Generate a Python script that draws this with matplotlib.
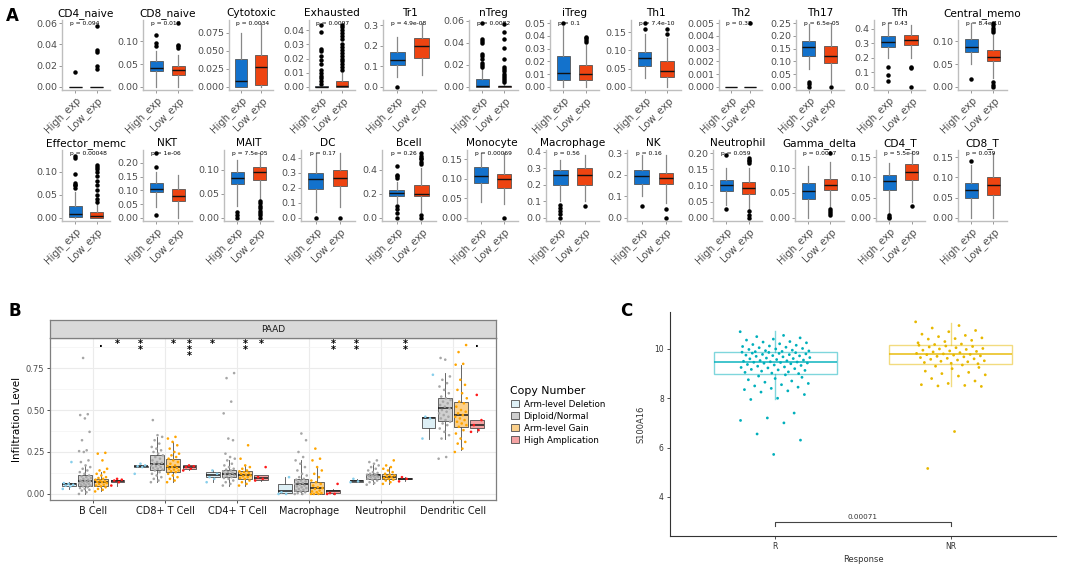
import numpy as np
import matplotlib
matplotlib.use("Agg")
import matplotlib.pyplot as plt
from matplotlib.patches import Patch, Rectangle

W, H = 1084, 567

# ---------------- panel A data ----------------
a_cells = ["CD4_naive", "CD8_naive", "Cytotoxic", "Exhausted", "Tr1", "nTreg", "iTreg", "Th1",
           "Th2", "Th17", "Tfh", "Central_memo",
           "Effector_memc", "NKT", "MAIT", "DC", "Bcell", "Monocyte", "Macrophage", "NK",
           "Neutrophil", "Gamma_delta", "CD4_T", "CD8_T"]
a_p = ["p = 0.094", "p = 0.012", "p = 0.0034", "p = 0.0097", "p = 4.9e-08", "p = 0.0082", "p = 0.1",
       "p = 7.4e-10", "p = 0.32", "p = 6.5e-05", "p = 0.43", "p = 8.4e-10",
       "p = 0.00048", "p = 1e-06", "p = 7.5e-05", "p = 0.17", "p = 0.26", "p = 0.00069", "p = 0.56",
       "p = 0.16", "p = 0.059", "p = 0.0017", "p = 5.5e-09", "p = 0.039"]
a_top = [0.06, 0.14, 0.088, 0.045, 0.31, 0.058, 0.05, 0.175, 0.005, 0.25, 0.44, 0.14,
         0.14, 0.235, 0.135, 0.43, 0.54, 0.165, 0.39, 0.3, 0.2, 0.13, 0.16, 0.16]
a_ticks = [
    ["0.00", "0.02", "0.04", "0.06"],
    ["0.00", "0.05", "0.10"],
    ["0.000", "0.025", "0.050", "0.075"],
    ["0.00", "0.01", "0.02", "0.03", "0.04"],
    ["0.0", "0.1", "0.2", "0.3"],
    ["0.00", "0.02", "0.04", "0.06"],
    ["0.00", "0.01", "0.02", "0.03", "0.04", "0.05"],
    ["0.00", "0.05", "0.10", "0.15"],
    ["0.000", "0.001", "0.002", "0.003", "0.004", "0.005"],
    ["0.00", "0.05", "0.10", "0.15", "0.20", "0.25"],
    ["0.0", "0.1", "0.2", "0.3", "0.4"],
    ["0.00", "0.05", "0.10"],
    ["0.00", "0.05", "0.10"],
    ["0.00", "0.05", "0.10", "0.15", "0.20"],
    ["0.00", "0.05", "0.10"],
    ["0.0", "0.1", "0.2", "0.3", "0.4"],
    ["0.0", "0.2", "0.4"],
    ["0.00", "0.05", "0.10", "0.15"],
    ["0.0", "0.1", "0.2", "0.3", "0.4"],
    ["0.0", "0.1", "0.2", "0.3"],
    ["0.00", "0.05", "0.10", "0.15", "0.20"],
    ["0.00", "0.05", "0.10"],
    ["0.00", "0.05", "0.10", "0.15"],
    ["0.00", "0.05", "0.10", "0.15"],
]
# (lower whisker, q1, median, q3, upper whisker)
a_high = [
    (0, 0, 0, 0, 0), (0.0, 0.035, 0.041, 0.057, 0.079), (0.0, 0.0, 0.008, 0.039, 0.075),
    (0, 0, 0, 0.0005, 0.001), (0.05, 0.105, 0.13, 0.17, 0.245), (0, 0, 0.001, 0.007, 0.016),
    (0, 0.005, 0.011, 0.024, 0.048), (0.025, 0.058, 0.078, 0.097, 0.145), (0, 0, 0, 0, 0),
    (0.07, 0.12, 0.158, 0.18, 0.245), (0.2, 0.275, 0.31, 0.35, 0.44), (0.05, 0.077, 0.088, 0.105, 0.14),
    (0, 0.002, 0.008, 0.025, 0.055), (0.04, 0.093, 0.105, 0.127, 0.165), (0.025, 0.07, 0.083, 0.095, 0.12),
    (0.04, 0.195, 0.255, 0.3, 0.43), (0.12, 0.18, 0.205, 0.23, 0.3), (0.04, 0.09, 0.108, 0.13, 0.165),
    (0.1, 0.2, 0.26, 0.29, 0.35), (0.1, 0.155, 0.195, 0.22, 0.29), (0.04, 0.083, 0.1, 0.118, 0.155),
    (0.0, 0.038, 0.053, 0.07, 0.105), (0.01, 0.068, 0.09, 0.107, 0.137), (0.0, 0.05, 0.07, 0.085, 0.13),
]
a_high_out = [
    [0.014], [0.09, 0.097, 0.115], [],
    [0.002, 0.004, 0.006, 0.008, 0.01, 0.012, 0.016, 0.019, 0.022, 0.025, 0.027, 0.039, 0.044],
    [0.0], [0.018, 0.02, 0.022, 0.025, 0.028, 0.03, 0.04, 0.042, 0.044, 0.058], [0.05],
    [0.16, 0.175], [], [0.0, 0.01, 0.02], [0.04, 0.08, 0.14], [0.018],
    [0.065, 0.07, 0.072, 0.075, 0.095, 0.13, 0.135], [0.01, 0.185, 0.235], [0.0, 0.006, 0.013],
    [0.0], [0.0, 0.04, 0.07, 0.1, 0.33, 0.35, 0.36, 0.43], [], [0.0, 0.02, 0.04, 0.06, 0.08],
    [0.055], [0.028, 0.195], [], [0.0, 0.003, 0.006], [0.14],
]
a_low = [
    (0, 0, 0, 0, 0), (0.0, 0.026, 0.036, 0.046, 0.07), (0.0, 0.003, 0.028, 0.044, 0.088),
    (0, 0, 0.0008, 0.004, 0.01), (0.06, 0.14, 0.2, 0.24, 0.31), (0, 0, 0.0003, 0.001, 0.003),
    (0, 0.005, 0.01, 0.017, 0.033), (0.0, 0.027, 0.043, 0.07, 0.135), (0, 0, 0, 0, 0),
    (0.01, 0.095, 0.12, 0.16, 0.25), (0.2, 0.29, 0.325, 0.36, 0.43), (0.02, 0.056, 0.065, 0.08, 0.115),
    (0, 0, 0.003, 0.013, 0.03), (0.0, 0.06, 0.08, 0.105, 0.155), (0.04, 0.08, 0.095, 0.107, 0.135),
    (0.07, 0.21, 0.265, 0.32, 0.43), (0.05, 0.18, 0.2, 0.27, 0.42), (0.035, 0.075, 0.098, 0.113, 0.165),
    (0.1, 0.2, 0.26, 0.3, 0.38), (0.07, 0.155, 0.183, 0.21, 0.29), (0.025, 0.075, 0.093, 0.11, 0.155),
    (0.02, 0.055, 0.065, 0.078, 0.113), (0.04, 0.093, 0.113, 0.133, 0.165), (0.0, 0.057, 0.08, 0.1, 0.16),
]
a_low_out = [
    [0.017, 0.02, 0.033, 0.035, 0.057], [0.085, 0.09, 0.093, 0.14], [],
    [0.012, 0.014, 0.016, 0.018, 0.02, 0.022, 0.024, 0.026, 0.028, 0.03, 0.034, 0.036, 0.038, 0.04, 0.042, 0.044],
    [], [0.004, 0.006, 0.008, 0.01, 0.012, 0.014, 0.016, 0.018, 0.025, 0.035, 0.044, 0.05, 0.057],
    [0.035, 0.037, 0.038, 0.039], [0.145, 0.16], [0.005], [0.0], [0.0, 0.13, 0.14],
    [0.0, 0.005, 0.01, 0.12, 0.125, 0.13, 0.135, 0.14],
    [0.035, 0.04, 0.05, 0.06, 0.07, 0.08, 0.09, 0.1, 0.105, 0.11, 0.115], [],
    [0.0, 0.005, 0.01, 0.015, 0.02, 0.025, 0.03, 0.035], [0.0], [0.0, 0.02, 0.45, 0.47, 0.49, 0.5, 0.52, 0.54],
    [0.0], [0.07], [0.0, 0.04], [0.0, 0.01, 0.02, 0.17, 0.175, 0.18, 0.185],
    [0.005, 0.01, 0.013, 0.017, 0.13], [0.028], [],
]
a_groups = ["High_exp", "Low_exp"]

# ---------------- panel B data ----------------
b_cats = ["B Cell", "CD8+ T Cell", "CD4+ T Cell", "Macrophage", "Neutrophil", "Dendritic Cell"]
b_groups = ["Arm-level Deletion", "Diploid/Normal", "Arm-level Gain", "High Amplication"]
b_box_del = [(0.03, 0.05, 0.06, 0.065, 0.07), (0.16, 0.163, 0.165, 0.167, 0.17), (0.07, 0.1, 0.11, 0.13, 0.14),
             (0.0, 0.005, 0.02, 0.06, 0.1), (0.07, 0.07, 0.075, 0.085, 0.09), (0.33, 0.39, 0.45, 0.46, 0.46)]
b_box_dip = [(0.0, 0.05, 0.075, 0.11, 0.17), (0.07, 0.14, 0.18, 0.235, 0.34), (0.05, 0.1, 0.12, 0.145, 0.2),
             (0.0, 0.02, 0.06, 0.09, 0.2), (0.06, 0.09, 0.11, 0.12, 0.17), (0.33, 0.435, 0.51, 0.57, 0.72)]
b_box_gain = [(0.015, 0.045, 0.07, 0.09, 0.13), (0.07, 0.13, 0.16, 0.21, 0.31), (0.05, 0.09, 0.11, 0.135, 0.17),
              (0.0, 0.0, 0.035, 0.07, 0.16), (0.06, 0.09, 0.1, 0.12, 0.16), (0.26, 0.4, 0.47, 0.55, 0.77)]
b_box_amp = [(0.05, 0.07, 0.08, 0.085, 0.09), (0.14, 0.15, 0.16, 0.17, 0.17), (0.08, 0.085, 0.095, 0.11, 0.11),
             (0.0, 0.005, 0.015, 0.025, 0.03), (0.075, 0.09, 0.09, 0.095, 0.1), (0.37, 0.39, 0.41, 0.44, 0.44)]
b_pts_del = [
    [0.03, 0.045, 0.05, 0.055, 0.06, 0.065, 0.19],
    [0.12, 0.16, 0.165, 0.17, 0.18],
    [0.07, 0.09, 0.1, 0.12, 0.14],
    [0.0, 0.0, 0.01, 0.1],
    [0.07, 0.075, 0.09],
    [0.33, 0.45, 0.46, 0.71],
]
b_pts_dip = [
    [0.0, 0.01, 0.02, 0.025, 0.03, 0.035, 0.04, 0.045, 0.05, 0.052, 0.055, 0.06, 0.062, 0.065, 0.07, 0.072,
     0.075, 0.078, 0.08, 0.085, 0.09, 0.095, 0.1, 0.105, 0.11, 0.12, 0.13, 0.14, 0.15, 0.16, 0.17, 0.19,
     0.2, 0.25, 0.255, 0.26, 0.32, 0.37, 0.45, 0.47, 0.475, 0.81],
    [0.07, 0.08, 0.09, 0.1, 0.11, 0.12, 0.13, 0.14, 0.145, 0.15, 0.155, 0.16, 0.165, 0.17, 0.175, 0.18,
     0.185, 0.19, 0.2, 0.21, 0.22, 0.23, 0.24, 0.25, 0.26, 0.27, 0.28, 0.3, 0.32, 0.34, 0.35, 0.44],
    [0.05, 0.06, 0.07, 0.08, 0.09, 0.095, 0.1, 0.105, 0.11, 0.115, 0.12, 0.125, 0.13, 0.135, 0.14, 0.145,
     0.15, 0.16, 0.17, 0.18, 0.2, 0.21, 0.22, 0.24, 0.32, 0.33, 0.48, 0.55, 0.69, 0.72],
    [0.0, 0.0, 0.005, 0.01, 0.015, 0.02, 0.025, 0.03, 0.035, 0.04, 0.045, 0.05, 0.055, 0.06, 0.065, 0.07,
     0.075, 0.08, 0.085, 0.09, 0.1, 0.11, 0.12, 0.14, 0.16, 0.18, 0.2, 0.22, 0.25, 0.32, 0.36],
    [0.055, 0.065, 0.07, 0.08, 0.085, 0.09, 0.095, 0.1, 0.102, 0.105, 0.108, 0.11, 0.112, 0.115, 0.118,
     0.12, 0.125, 0.13, 0.14, 0.15, 0.16, 0.17, 0.18, 0.19, 0.2],
    [0.21, 0.22, 0.33, 0.35, 0.37, 0.39, 0.41, 0.42, 0.43, 0.44, 0.45, 0.46, 0.47, 0.48, 0.49, 0.5, 0.51,
     0.52, 0.53, 0.54, 0.55, 0.56, 0.57, 0.58, 0.6, 0.62, 0.64, 0.66, 0.68, 0.7, 0.8, 0.81],
]
b_pts_gain = [
    [0.015, 0.025, 0.03, 0.04, 0.045, 0.05, 0.055, 0.06, 0.065, 0.07, 0.072, 0.075, 0.08, 0.085, 0.09,
     0.095, 0.1, 0.11, 0.12, 0.13, 0.14, 0.15, 0.2, 0.24, 0.245],
    [0.07, 0.08, 0.09, 0.1, 0.11, 0.12, 0.13, 0.135, 0.14, 0.145, 0.15, 0.155, 0.16, 0.165, 0.17, 0.18,
     0.19, 0.2, 0.21, 0.22, 0.23, 0.24, 0.25, 0.27, 0.29, 0.31, 0.33, 0.34],
    [0.05, 0.06, 0.07, 0.08, 0.09, 0.095, 0.1, 0.105, 0.11, 0.115, 0.12, 0.125, 0.13, 0.135, 0.14, 0.15,
     0.16, 0.17, 0.21, 0.29],
    [0.0, 0.0, 0.0, 0.005, 0.01, 0.015, 0.02, 0.03, 0.035, 0.04, 0.05, 0.06, 0.07, 0.08, 0.1, 0.12, 0.14,
     0.16, 0.2, 0.21, 0.27],
    [0.06, 0.07, 0.08, 0.085, 0.09, 0.095, 0.1, 0.105, 0.11, 0.115, 0.12, 0.13, 0.14, 0.15, 0.16, 0.17, 0.2],
    [0.25, 0.27, 0.3, 0.31, 0.33, 0.36, 0.38, 0.4, 0.41, 0.42, 0.43, 0.44, 0.45, 0.46, 0.47, 0.48, 0.49,
     0.5, 0.52, 0.54, 0.55, 0.57, 0.6, 0.62, 0.65, 0.68, 0.77, 0.775, 0.845, 0.887],
]
b_pts_amp = [
    [0.05, 0.07, 0.08, 0.085, 0.09],
    [0.14, 0.15, 0.16, 0.165, 0.17],
    [0.08, 0.09, 0.1, 0.16],
    [0.0, 0.0, 0.005, 0.06],
    [0.075, 0.09, 0.1],
    [0.37, 0.38, 0.41, 0.44, 0.59],
]
# significance marks: (category index, group index, label)
b_sig_cat = [0, 0, 1, 1, 1, 2, 2, 2, 3, 4, 4, 5]
b_sig_grp = [2, 3, 0, 2, 3, 0, 2, 3, 3, 0, 3, 3]
b_sig_lab = [".", "*", "**", "*", "***", "*", "**", "*", "**", "**", "**", "."]

# ---------------- panel C data ----------------
c_groups = ["R", "NR"]
c_box = [(7.97, 8.98, 9.47, 9.88, 10.73), (8.5, 9.39, 9.78, 10.16, 11.04)]
c_r = [10.7, 10.55, 10.5, 10.45, 10.4, 10.36, 10.3, 10.28, 10.25, 10.21, 10.18, 10.15, 10.12, 10.1, 10.07,
       10.05, 10.02, 10.0, 9.98, 9.95, 9.93, 9.92, 9.9, 9.89,
       9.0, 9.02, 9.05, 9.07, 9.1, 9.13, 9.15, 9.17, 9.2, 9.23, 9.25, 9.27, 9.3, 9.33, 9.35, 9.37, 9.4, 9.42,
       9.43, 9.45, 9.46, 9.47, 9.48, 9.5, 9.52, 9.53, 9.55, 9.57, 9.6, 9.61, 9.63, 9.65, 9.68, 9.7, 9.72,
       9.73, 9.75, 9.77, 9.78, 9.8, 9.82, 9.83, 9.85, 9.86, 9.87,
       8.95, 8.9, 8.85, 8.8, 8.75, 8.7, 8.65, 8.6, 8.55, 8.5, 8.45, 8.4, 8.35, 8.3, 8.25, 8.15, 8.0, 7.95,
       7.4, 7.2, 7.1, 7.0, 6.55, 6.3, 5.72]
c_nr = [11.1, 10.95, 10.85, 10.75, 10.7, 10.6, 10.55, 10.5, 10.45, 10.42, 10.4, 10.35, 10.3, 10.25, 10.2, 10.18,
        9.4, 9.42, 9.45, 9.48, 9.5, 9.52, 9.55, 9.58, 9.6, 9.62, 9.65, 9.68, 9.7, 9.72, 9.75, 9.77, 9.78,
        9.8, 9.82, 9.85, 9.88, 9.9, 9.92, 9.95, 9.98, 10.0, 10.02, 10.05, 10.08, 10.1, 10.12, 10.15,
        9.35, 9.3, 9.25, 9.2, 9.1, 9.05, 9.0, 8.95, 8.9, 8.8, 8.7, 8.6, 8.55, 8.52, 8.5, 8.48, 6.65, 5.15]
c_pval = "0.00071"

# ---------------- drawing ----------------
fig = plt.figure(figsize=(W / 100, H / 100), dpi=100)


def px_axes(l, t, r, b):
    return fig.add_axes([l / W, 1 - b / H, (r - l) / W, (b - t) / H])


def box_dict(s, out=()):
    lo, q1, med, q3, hi = s
    return dict(whislo=lo, q1=q1, med=med, q3=q3, whishi=hi, fliers=list(out))


def jit(n, half):
    # spread points sideways in a fixed, repeatable pattern
    return np.array([(k * 0.618034) % 1.0 for k in range(n)]) * 2 * half - half


blue, red = "#1372CC", "#EE4411"
a_rows = [(20, 90), (150, 221)]
a_left = [62, 143, 229, 309, 383, 469, 550, 631, 719, 796, 874, 958,
          62, 143, 224, 301, 382, 467, 546, 627, 713, 795, 876, 958]

for i, name in enumerate(a_cells):
    row, col = divmod(i, 12)
    top, bot = a_rows[row]
    ax = px_axes(a_left[i], top, 110 + 81.5 * col, bot)
    stats = [box_dict(a_high[i], a_high_out[i]), box_dict(a_low[i], a_low_out[i])]
    bp = ax.bxp(stats, positions=[1, 2], widths=0.6, patch_artist=True, showcaps=False,
                boxprops=dict(edgecolor="#555555", linewidth=0.6),
                whiskerprops=dict(color="#888888", linewidth=0.9),
                medianprops=dict(color="#111111", linewidth=1.0),
                flierprops=dict(marker="o", markersize=2.2, markerfacecolor="black",
                                markeredgecolor="black"))
    for patch, c in zip(bp["boxes"], [blue, red]):
        patch.set_facecolor(c)
    yt = a_top[i]
    ax.set_ylim(-0.05 * yt, 1.05 * yt)
    ax.set_xlim(0.4, 2.6)
    ax.set_yticks([float(t) for t in a_ticks[i]])
    ax.set_yticklabels(a_ticks[i], fontsize=6.8, color="#4D4D4D")
    ax.set_xticks([1, 2])
    ax.set_xticklabels(a_groups, rotation=45, ha="right", rotation_mode="anchor",
                       fontsize=7.2, color="#4D4D4D")
    ax.tick_params(length=2, width=0.6, color="#888888", pad=1.5)
    for s in ["top", "right"]:
        ax.spines[s].set_visible(False)
    for s in ["left", "bottom"]:
        ax.spines[s].set_color("#BEBEBE")
        ax.spines[s].set_linewidth(1.0)
    ax.set_title(name, fontsize=7.6, pad=3)
    ax.text(0.75, yt, a_p[i], fontsize=4.3, ha="left", va="center")

# ---- panel B ----
axb = px_axes(50, 338, 496, 500)
offs = [-0.3375, -0.1125, 0.1125, 0.3375]
b_fill = ["#DDEFF5", "#CFCFCF", "#FBD08A", "#F4A3A3"]
b_col = ["#87CEEB", "#A6A6A6", "#FFA500", "#FF1A1A"]
b_boxes = [b_box_del, b_box_dip, b_box_gain, b_box_amp]
b_pts = [b_pts_del, b_pts_dip, b_pts_gain, b_pts_amp]
cat_x = np.arange(1, len(b_cats) + 1)
for g in range(4):
    pos = cat_x + offs[g]
    bp = axb.bxp([box_dict(s) for s in b_boxes[g]], positions=pos, widths=0.19, patch_artist=True,
                 showcaps=False, showfliers=False,
                 boxprops=dict(edgecolor="#4D4D4D", linewidth=0.6),
                 whiskerprops=dict(color="#4D4D4D", linewidth=0.6),
                 medianprops=dict(color="#1A1A1A", linewidth=1.1))
    for patch in bp["boxes"]:
        patch.set_facecolor(b_fill[g])
        patch.set_zorder(2)
    for c in range(len(b_cats)):
        vals = np.array(b_pts[g][c])
        axb.scatter(pos[c] + jit(len(vals), 0.085), vals, s=3.5, color=b_col[g],
                    edgecolors="none", zorder=3)
for c, g, lab in zip(b_sig_cat, b_sig_grp, b_sig_lab):
    axb.text(cat_x[c] + offs[g], 0.925, "\n".join(lab), ha="center", va="top",
             fontsize=7, linespacing=0.55, fontweight="bold")
axb.set_xlim(0.4, 6.6)
axb.set_ylim(-0.036, 0.929)
axb.set_xticks(cat_x)
axb.set_xticklabels(b_cats, fontsize=7, color="#1A1A1A")
axb.set_yticks([0, 0.25, 0.5, 0.75])
axb.set_yticklabels(["0.00", "0.25", "0.50", "0.75"], fontsize=6, color="#4D4D4D")
axb.set_yticks([0.125, 0.375, 0.625, 0.875], minor=True)
axb.grid(True, which="major", color="#EBEBEB", linewidth=0.8)
axb.grid(True, which="minor", axis="y", color="#F3F3F3", linewidth=0.5)
axb.set_axisbelow(True)
axb.tick_params(length=2, width=0.6, color="#333333", pad=2)
axb.tick_params(which="minor", length=0)
for s in axb.spines.values():
    s.set_color("#7F7F7F")
    s.set_linewidth(0.9)
axb.set_ylabel("Infiltration Level", fontsize=7.5, labelpad=3)

strip = px_axes(50, 320, 496, 338)
strip.set_facecolor("#D9D9D9")
strip.set_xticks([])
strip.set_yticks([])
for s in strip.spines.values():
    s.set_color("#7F7F7F")
    s.set_linewidth(0.9)
strip.text(0.5, 0.5, "PAAD", ha="center", va="center", fontsize=6.5, color="#1A1A1A",
           transform=strip.transAxes)

handles = [Patch(facecolor=b_fill[g], edgecolor="#4D4D4D", linewidth=0.6) for g in range(4)]
leg = fig.legend(handles, b_groups, loc="upper left", bbox_to_anchor=(507 / W, 1 - 383 / H),
                 frameon=False, title="Copy Number", fontsize=6.3, title_fontsize=7.8,
                 handlelength=1.0, handleheight=0.9, handletextpad=0.5, labelspacing=0.35,
                 borderaxespad=0)
leg._legend_box.align = "left"

# ---- panel C ----
axc = px_axes(670, 312, 1056, 536)
c_cols = ["#00AFBB", "#E7B800"]
for g, vals in enumerate([c_r, c_nr]):
    bp = axc.bxp([box_dict(c_box[g])], positions=[g + 1], widths=0.7, patch_artist=True,
                 showcaps=False, showfliers=False,
                 boxprops=dict(edgecolor=c_cols[g], linewidth=1.0, alpha=0.5),
                 whiskerprops=dict(color=c_cols[g], linewidth=1.0, alpha=0.5),
                 medianprops=dict(color=c_cols[g], linewidth=1.3, alpha=0.8))
    bp["boxes"][0].set_facecolor("none")
    vals = np.array(vals)
    axc.scatter(g + 1 + jit(len(vals), 0.2), vals, s=4, color=c_cols[g], edgecolors="none", zorder=3)
axc.plot([1, 1, 2, 2], [2.82, 2.98, 2.98, 2.82], color="#444444", linewidth=0.8)
axc.text(1.5, 3.04, c_pval, ha="center", va="bottom", fontsize=5.2, color="#333333")
axc.set_xlim(0.4, 2.6)
axc.set_ylim(2.41, 11.5)
axc.set_xticks([1, 2])
axc.set_xticklabels(c_groups, fontsize=5.5, color="#333333")
axc.set_yticks([4, 6, 8, 10])
axc.set_yticklabels(["4", "6", "8", "10"], fontsize=5.5, color="#333333")
axc.tick_params(length=2.5, width=0.6, color="#333333", pad=2)
for s in ["top", "right"]:
    axc.spines[s].set_visible(False)
for s in ["left", "bottom"]:
    axc.spines[s].set_color("#333333")
    axc.spines[s].set_linewidth(0.8)
axc.set_xlabel("Response", fontsize=6, color="#333333", labelpad=3)
axc.set_ylabel("S100A16", fontsize=6, color="#333333", labelpad=6)

fig.text(6 / W, 1 - 16 / H, "A", fontsize=12, fontweight="bold", va="center")
fig.text(8 / W, 1 - 311 / H, "B", fontsize=12, fontweight="bold", va="center")
fig.text(620 / W, 1 - 311 / H, "C", fontsize=12, fontweight="bold", va="center")

fig.savefig("out.png", dpi=100)
